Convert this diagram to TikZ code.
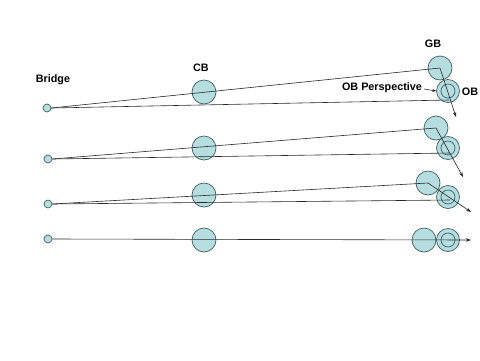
\documentclass[tikz,border=0pt]{standalone}
\usepackage{fontspec}
\setmainfont{Liberation Sans}
\usetikzlibrary{arrows.meta}
\definecolor{ballfill}{RGB}{182,222,224}
\definecolor{ballline}{RGB}{62,96,100}
\definecolor{rayline}{RGB}{40,40,40}
\tikzset{
  ball/.style={circle, draw=ballline, fill=ballfill, line width=0.7pt, inner sep=0pt, minimum size=24pt},
  smallball/.style={circle, draw=ballline, fill=ballfill, line width=0.7pt, inner sep=0pt, minimum size=8pt},
  obouter/.style={circle, draw=ballline, fill=ballfill, line width=0.7pt, inner sep=0pt, minimum size=23pt},
  obinner/.style={circle, draw=ballline, line width=0.7pt, inner sep=0pt, minimum size=14pt},
  ray/.style={draw=rayline, line width=0.6pt},
  rayarrow/.style={ray, -{Stealth[length=5pt,width=3.5pt]}},
  lbl/.style={font=\bfseries\fontsize{10.8}{12}\selectfont, inner sep=0pt}
}
\begin{document}
\begin{tikzpicture}[x=1pt,y=-1pt]
\useasboundingbox (0,0) rectangle (480,360);
% labels
\node[lbl] (lbridge) at (53,80) {Bridge};
\node[lbl] (lcb) at (201,68) {CB};
\node[lbl] (lgb) at (433,44) {GB};
\node[lbl] (lobp) at (382,88) {OB Perspective};
\node[lbl] (lob) at (470,92) {OB};
% row 1
\node[smallball] (br1) at (47,108) {};
\node[ball] (cb1) at (204,92) {};
\node[ball] (gb1) at (440,68) {};
\node[obouter] (ob1) at (448,91) {};
\node[obinner] (obi1) at (448,91) {};
\coordinate (t1) at (456,117);
\coordinate (e1) at (449,100);
% row 2
\node[smallball] (br2) at (48,159) {};
\node[ball] (cb2) at (204,148) {};
\node[ball] (gb2) at (436,128) {};
\node[obouter] (ob2) at (448,148) {};
\node[obinner] (obi2) at (448,148) {};
\coordinate (t2) at (463,177);
\coordinate (e2) at (450,153);
% row 3
\node[smallball] (br3) at (48,204) {};
\node[ball] (cb3) at (204,195) {};
\node[ball] (gb3) at (428,183) {};
\node[obouter] (ob3) at (448,197) {};
\node[obinner] (obi3) at (448,197) {};
\coordinate (t3) at (471,212);
\coordinate (e3) at (450,200);
% row 4
\node[smallball] (br4) at (48,239) {};
\node[ball] (cb4) at (204,240) {};
\node[ball] (gb4) at (424,240) {};
\node[obouter] (ob4) at (448,240) {};
\node[obinner] (obi4) at (448,240) {};
\coordinate (t4) at (471,240);
% rays
\draw[ray] (br1.east) -- (gb1.center);
\draw[rayarrow] (gb1.center) -- (t1);
\draw[ray] (br1.east) -- (e1);
\draw[ray] (br2.east) -- (gb2.center);
\draw[rayarrow] (gb2.center) -- (t2);
\draw[ray] (br2.east) -- (e2);
\draw[ray] (br3.east) -- (gb3.center);
\draw[rayarrow] (gb3.center) -- (t3);
\draw[ray] (br3.east) -- (e3);
\draw[rayarrow] (br4.east) -- (t4);
% perspective pointer
\draw[ray, -{Stealth[length=4pt,width=3pt]}] (lobp.east) ++(2,1) -- (ob1.west);
\end{tikzpicture}
\end{document}
